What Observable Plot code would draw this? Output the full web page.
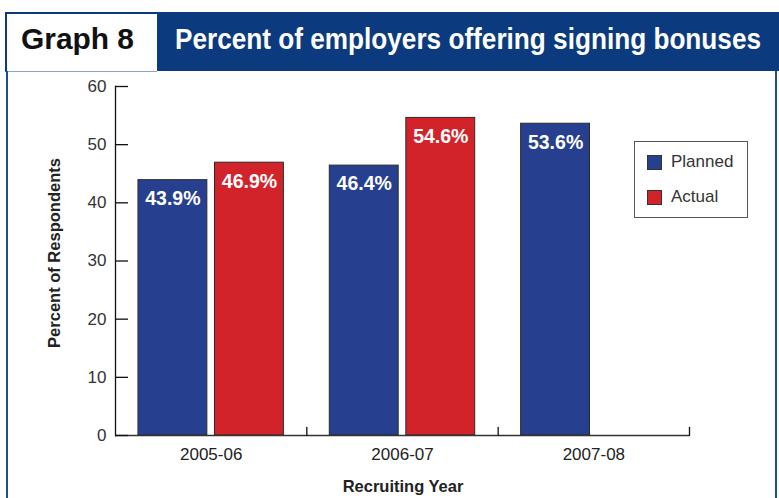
<!DOCTYPE html>
<html>
<head>
<meta charset="utf-8">
<script src="https://cdn.jsdelivr.net/npm/d3@7"></script>
<script src="https://cdn.jsdelivr.net/npm/@observablehq/plot@0.6"></script>
<style>
  html, body { margin: 0; padding: 0; background: #fff; }
  #page { position: relative; width: 779px; height: 498px; overflow: hidden; font-family: "Liberation Sans", Arial, sans-serif; background: #fff; }
  .abs { position: absolute; }
  #chart { position: absolute; left: 0; top: 71px; }
  #chart svg { background: transparent; }
  .fit { position: absolute; white-space: nowrap; transform-origin: 0 0; }
</style>
</head>
<body>
<div id="page">
  <div class="abs" style="left:5px;top:12px;width:150px;height:57px;background:#fff;border-top:2px solid #0b3a7e;border-left:2px solid #0b3a7e;border-bottom:1px solid #8aa6cc;"></div>
  <div class="abs" style="left:157px;top:12px;width:622px;height:59px;background:#0b3a7e;"></div>
  <div id="t1" class="fit" style="top:22px;font-weight:bold;font-size:30px;color:#111;">Graph 8</div>
  <div id="t2" class="fit" style="top:22px;font-weight:bold;font-size:30px;color:#fff;">Percent of employers offering signing bonuses</div>
  <div class="abs" style="left:6px;top:71px;width:2px;height:427px;background:#1d4d94;"></div>
  <div class="abs" style="left:775px;top:71px;width:2px;height:427px;background:#1d4d94;"></div>
  <div id="chart"></div>
  <div id="ylab" class="abs" style="left:54px;top:253px;transform:translate(-50%,-50%) rotate(-90deg);font-weight:bold;font-size:16.5px;color:#222;white-space:nowrap;">Percent of Respondents</div>
  <div id="xlab" class="abs" style="left:403px;top:486px;transform:translate(-50%,-50%);font-weight:bold;font-size:16.5px;color:#222;white-space:nowrap;">Recruiting Year</div>
  <div id="legend" class="abs" style="left:634px;top:141px;width:112px;height:75px;border:1px solid #555;background:#fff;"></div>
</div>
<script>
const years = ["2005-06", "2006-07", "2007-08"];
const series = ["Planned", "Actual"];
const planned = [43.9, 46.4, 53.6];
const actual = [46.9, 54.6, null];
const yTicks = [0, 10, 20, 30, 40, 50, 60];
const colors = ["#26408f", "#d2232b"];

const rows = [];
years.forEach((yr, i) => {
  if (planned[i] != null) rows.push({year: yr, series: "Planned", value: planned[i]});
  if (actual[i] != null) rows.push({year: yr, series: "Actual", value: actual[i]});
});

const plot = Plot.plot({
  width: 779,
  height: 427,
  marginLeft: 115,
  marginRight: 90,
  marginTop: 15,
  marginBottom: 63,
  style: {background: "transparent", fontFamily: "Liberation Sans, Arial, sans-serif"},
  fx: {domain: years, padding: 0, round: false, label: null},
  x: {domain: series, paddingInner: 0.1, paddingOuter: 0.3, round: false, axis: null},
  y: {domain: [0, 60], axis: null},
  color: {domain: series, range: colors},
  marks: [
    Plot.barY(rows, {fx: "year", x: "series", y: "value", fill: "series", stroke: "#2a2a2a", strokeWidth: 1}),
    Plot.text(rows, {fx: "year", x: "series", y: "value", text: d => d.value.toFixed(1) + "%",
      lineAnchor: "top", dy: 11, fill: "white", fontWeight: "bold", fontSize: 19.5}),
    Plot.ruleY([0], {stroke: "#333", strokeWidth: 1.6}),
    Plot.frame({anchor: "left", facetAnchor: "left", stroke: "#111", strokeWidth: 1.3}),
    Plot.vector(years, {fx: d => d, frameAnchor: "bottom-right", length: 8, anchor: "start", rotate: 0,
      stroke: "#111", strokeWidth: 1.3,
      shape: {draw(context, l) { context.moveTo(0, 0); context.lineTo(0, -l); }}}),
    Plot.axisY({ticks: yTicks, tickSize: 13, dx: 13, fill: "none", stroke: "#111", strokeWidth: 1.3, label: null}),
    Plot.axisY({ticks: yTicks, tickSize: 0, tickPadding: 9, fontSize: 17, fill: "#333", label: null}),
    Plot.axisFx({anchor: "bottom", tickSize: 0, tickPadding: 12, fontSize: 17, fill: "#222", label: null})
  ]
});
document.getElementById("chart").appendChild(plot);

// Legend
const legend = document.getElementById("legend");
series.forEach((s, i) => {
  const sw = document.createElement("div");
  sw.style.cssText = `position:absolute;left:12px;top:${13 + i * 35}px;width:13px;height:13px;background:${colors[i]};border:1px solid #333;`;
  legend.appendChild(sw);
  const lb = document.createElement("div");
  lb.textContent = s;
  lb.style.cssText = `position:absolute;left:36px;top:${10 + i * 35}px;font-size:17px;color:#333;line-height:20px;`;
  legend.appendChild(lb);
});

// Fit header texts to their widths (condensed look)
function fit(id, left, right) {
  const el = document.getElementById(id);
  const w = el.getBoundingClientRect().width;
  el.style.left = left + "px";
  el.style.transform = `scaleX(${(right - left) / w})`;
}
fit("t1", 21, 134);
fit("t2", 175, 761);
</script>
</body>
</html>
